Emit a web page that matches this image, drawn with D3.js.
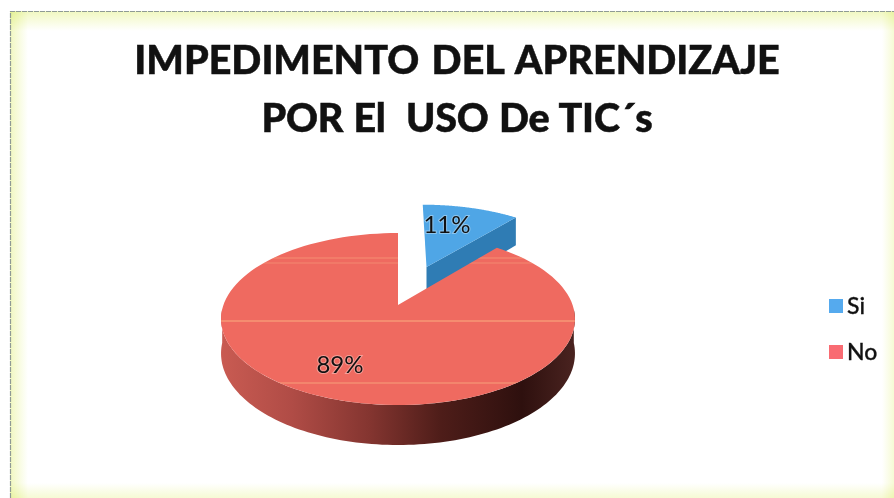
<!DOCTYPE html>
<html>
<head>
<meta charset="utf-8">
<script src="https://cdnjs.cloudflare.com/ajax/libs/d3/7.8.5/d3.min.js"></script>
<style>
  html, body { margin: 0; padding: 0; background: #fff; }
  svg { display: block; }
  text { font-family: Lato, "Open Sans", sans-serif; fill: #111; }
</style>
</head>
<body>
<div id="cont"></div>
<script>
var categories = ["Si", "No"];
var values = [11, 89];
var labels = ["11%", "89%"];
var titleLines = ["IMPEDIMENTO DEL APRENDIZAJE", "POR El  USO De TIC\u00b4s"];

var width = 894, height = 498;

var colors = { "Si": "#4fa6e6", "No": "#ef6a60" };
var wallColors = { "Si": "#2f7cb4" };
var legendColors = { "Si": "#55aaee", "No": "#f96b72" };

var svg = d3.select("#cont").append("svg")
  .attr("width", width)
  .attr("height", height);

var defs = svg.append("defs");

function edgeGradient(id, color, x1, y1, x2, y2) {
  var g = defs.append("linearGradient").attr("id", id)
    .attr("x1", x1).attr("y1", y1).attr("x2", x2).attr("y2", y2);
  g.append("stop").attr("offset", 0).attr("stop-color", color);
  g.append("stop").attr("offset", 1).attr("stop-color", "#ffffff");
}
edgeGradient("fadeLeft", "#f1f8c0", 0, 0, 1, 0);
edgeGradient("fadeRight", "#f6fad4", 1, 0, 0, 0);
edgeGradient("fadeTop", "#f1f8c0", 0, 0, 0, 1);
edgeGradient("fadeBottom", "#f6fad4", 0, 1, 0, 0);

//pale yellow frame round the chart area
svg.append("rect").attr("x", 10).attr("y", 11).attr("width", 18).attr("height", 487).attr("fill", "url(#fadeLeft)");
svg.append("rect").attr("x", 882).attr("y", 11).attr("width", 12).attr("height", 487).attr("fill", "url(#fadeRight)");
svg.append("rect").attr("x", 10).attr("y", 11).attr("width", 884).attr("height", 20).attr("fill", "url(#fadeTop)").style("mix-blend-mode", "multiply");
svg.append("rect").attr("x", 10).attr("y", 483).attr("width", 884).attr("height", 15).attr("fill", "url(#fadeBottom)").style("mix-blend-mode", "multiply");

svg.append("path")
  .attr("d", "M10.5,498V11.5H894")
  .attr("fill", "none")
  .attr("stroke", "#8f9a94")
  .attr("stroke-width", 1.2)
  .attr("stroke-dasharray", "5 1");

svg.selectAll(".title")
  .data(titleLines)
  .enter()
  .append("text")
  .attr("class", "title")
  .attr("x", 457)
  .attr("y", function(d, i) { return 74 + i * 58; })
  .attr("text-anchor", "middle")
  .attr("xml:space", "preserve")
  .style("white-space", "pre")
  .style("font-size", "39.5px")
  .style("font-weight", 900)
  .style("word-spacing", function(d, i) { return i == 0 ? "3px" : "1px"; })
  .style("letter-spacing", function(d, i) { return i == 0 ? "0px" : "-0.2px"; })
  .style("stroke", "#111")
  .style("stroke-width", 0.5)
  .text(function(d) { return d; });

//3D pie: plane coordinates go through one perspective projection
var originX = 398, originY = 305;
var spreadX = 174.6, spreadY = 83.7, perspective = 0.163, depth = 33.5;
var explode = { "Si": 0.52, "No": 0 };

function project(px, py, lowered) {
  var s = 1 + perspective * py;
  return [
    originX + spreadX * px / s,
    originY - spreadY * py / s + (lowered ? depth / s : 0)
  ];
}

var pie = d3.pie().sort(null).value(function(d) { return d; });
var arcs = pie(values).map(function(a, i) {
  var mid = (a.startAngle + a.endAngle) / 2;
  var off = explode[categories[i]];
  return {
    name: categories[i],
    label: labels[i],
    start: a.startAngle,
    end: a.endAngle,
    ox: off * Math.sin(mid),
    oy: off * Math.cos(mid)
  };
});

function rimPoint(a, angle, lowered) {
  return project(a.ox + Math.sin(angle), a.oy + Math.cos(angle), lowered);
}

function rim(a, from, to, lowered) {
  return d3.range(0, 121).map(function(k) {
    return rimPoint(a, from + (to - from) * k / 120, lowered);
  });
}

var line = d3.line();

var wallGrad = defs.append("linearGradient").attr("id", "wallNo")
  .attr("gradientUnits", "userSpaceOnUse")
  .attr("x1", 221).attr("x2", 575).attr("y1", 0).attr("y2", 0);
[[0, "#c95b52"], [0.2, "#b04c46"], [0.42, "#843530"], [0.62, "#4e1d19"], [0.85, "#2e100e"], [1, "#4a2320"]]
  .forEach(function(s) {
    wallGrad.append("stop").attr("offset", s[0]).attr("stop-color", s[1]);
  });

var si = arcs[0], no = arcs[1];

//blue slice first, the red one covers its lower wall
var siApex = project(si.ox, si.oy, false);
var siApexLow = project(si.ox, si.oy, true);
var siCut = rimPoint(si, si.end, false);
var siCutLow = rimPoint(si, si.end, true);
svg.append("path")
  .attr("d", line([siApex, siCut, siCutLow, siApexLow]) + "Z")
  .attr("fill", wallColors["Si"]);
svg.append("path")
  .attr("d", line([siApex].concat(rim(si, si.start, si.end, false))) + "Z")
  .attr("fill", colors["Si"]);

//red wall, only the front half of the rim shows
var frontFrom = Math.PI / 2 + 0.05, frontTo = 3 * Math.PI / 2 - 0.05;
var wallTop = rim(no, frontFrom, frontTo, false);
var wallLow = rim(no, frontFrom, frontTo, true).reverse();
svg.append("path")
  .attr("d", line(wallTop.concat(wallLow)) + "Z")
  .attr("fill", "url(#wallNo)");

var noFace = line([project(no.ox, no.oy, false)].concat(rim(no, no.start, no.end, false))) + "Z";
svg.append("path")
  .attr("d", noFace)
  .attr("fill", colors["No"]);

//scanner streaks over the red face
defs.append("clipPath").attr("id", "noClip").append("path").attr("d", noFace);
var streaks = svg.append("g").attr("clip-path", "url(#noClip)");
[[257, 0.3], [262, 0.25], [320, 0.55], [382, 0.45]].forEach(function(s) {
  streaks.append("rect")
    .attr("x", 200).attr("width", 400)
    .attr("y", s[0]).attr("height", 2)
    .attr("fill", "#f9a77e")
    .attr("opacity", s[1]);
});

//percent labels
var labelPos = { "Si": [447, 233], "No": [340, 373] };
svg.selectAll(".pct")
  .data(arcs)
  .enter()
  .append("text")
  .attr("class", "pct")
  .attr("x", function(d) { return labelPos[d.name][0]; })
  .attr("y", function(d) { return labelPos[d.name][1]; })
  .attr("text-anchor", "middle")
  .style("font-size", "24px")
  .style("paint-order", "stroke")
  .style("stroke", "rgba(255,255,255,0.35)")
  .style("stroke-width", 2)
  .text(function(d) { return d.label; });

//legend
var legendY = d3.scalePoint().domain(categories).range([306, 352]);
var legend = svg.selectAll(".legend")
  .data(categories)
  .enter()
  .append("g")
  .attr("class", "legend")
  .attr("transform", function(d) { return "translate(829," + legendY(d) + ")"; });
legend.append("rect")
  .attr("x", 0).attr("y", -7)
  .attr("width", 14).attr("height", 14)
  .attr("fill", function(d) { return legendColors[d]; });
legend.append("text")
  .attr("x", 18)
  .attr("y", 7.5)
  .style("font-size", "23px")
  .style("font-weight", 500)
  .style("stroke", "#111")
  .style("stroke-width", 0.3)
  .text(function(d) { return d; });
</script>
</body>
</html>
